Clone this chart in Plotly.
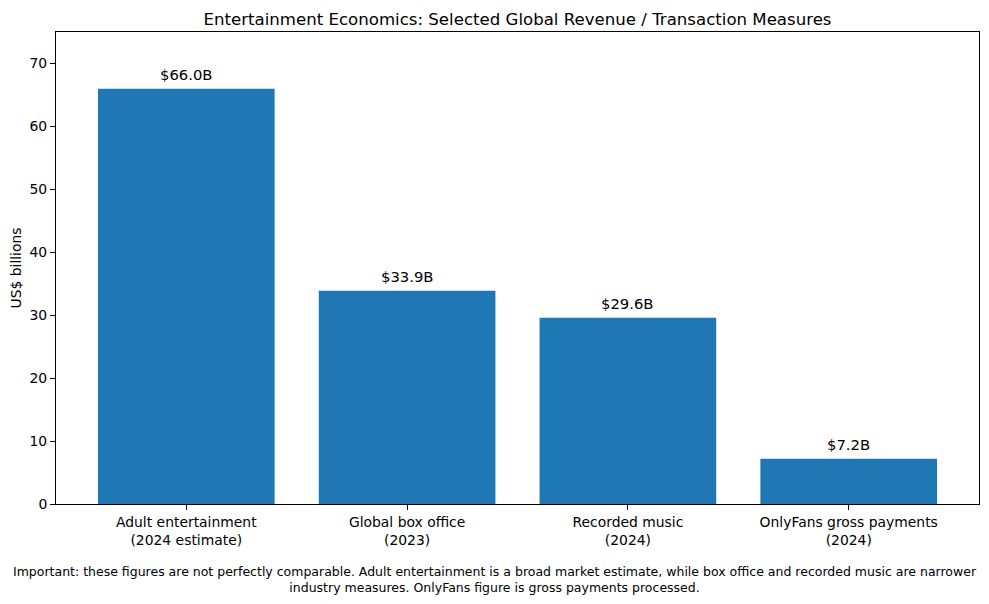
import plotly.graph_objects as go

# bar categories and values (US$ billions)
categories = [
    "Adult entertainment<br>(2024 estimate)",
    "Global box office<br>(2023)",
    "Recorded music<br>(2024)",
    "OnlyFans gross payments<br>(2024)",
]
values = [66.0, 33.9, 29.6, 7.2]
value_labels = ["$66.0B", "$33.9B", "$29.6B", "$7.2B"]
y_ticks = [0, 10, 20, 30, 40, 50, 60, 70]

title = "Entertainment Economics: Selected Global Revenue / Transaction Measures"
note = ("Important: these figures are not perfectly comparable. Adult entertainment is a broad market estimate, "
        "while box office and recorded music are narrower<br>industry measures. OnlyFans figure is gross payments processed.")

W, H = 989, 604
ML, MR, MT, MB = 56, 10, 32, 100
FONT = "DejaVu Sans"

xs = list(range(len(categories)))

fig = go.Figure()
fig.add_trace(go.Bar(
    x=xs, y=values, width=0.8,
    marker=dict(color="#1f77b4", line=dict(width=0)),
    hoverinfo="skip",
))

# value labels above bars
for xi, v, lab in zip(xs, values, value_labels):
    fig.add_annotation(
        x=xi, y=v, text=lab, showarrow=False,
        xanchor="center", yanchor="bottom", yshift=4,
        font=dict(size=14.8, color="black", family=FONT),
    )

fig.update_layout(
    width=W, height=H,
    margin=dict(l=ML, r=MR, t=MT, b=MB, autoexpand=False),
    paper_bgcolor="white", plot_bgcolor="white",
    font=dict(family=FONT, color="black", size=13.9),
    showlegend=False,
    title=dict(text=title, x=0.5, xref="paper", y=1 - 19 / H, yanchor="middle",
               font=dict(size=16.6, family=FONT, color="black")),
)

fig.update_xaxes(
    range=[-0.59, 3.59], automargin=False,
    tickmode="array", tickvals=xs, ticktext=categories,
    ticks="outside", ticklen=5, tickcolor="black",
    showline=True, linecolor="black", linewidth=1, mirror=True,
    showgrid=False, zeroline=False,
    tickfont=dict(size=13.9),
)
fig.update_yaxes(
    range=[0, 75], automargin=False,
    tickmode="array", tickvals=y_ticks,
    ticks="outside", ticklen=5, tickcolor="black",
    showline=True, linecolor="black", linewidth=1, mirror=True,
    showgrid=False, zeroline=False,
    tickfont=dict(size=13.9),
    title=dict(text="US$ billions", font=dict(size=13.9), standoff=4),
)

pw = W - ML - MR
ph = H - MT - MB
fig.add_annotation(
    text=note, xref="paper", yref="paper",
    x=(W / 2 - ML) / pw, y=-(579 - (H - MB)) / ph,
    xanchor="center", yanchor="middle", showarrow=False, align="center",
    font=dict(size=12.5, family=FONT, color="black"),
)

# drop the default body margin so the figure sits at the window origin
fig.write_html("out.html", config={"displayModeBar": False},
               post_script="document.body.style.margin='0';")
